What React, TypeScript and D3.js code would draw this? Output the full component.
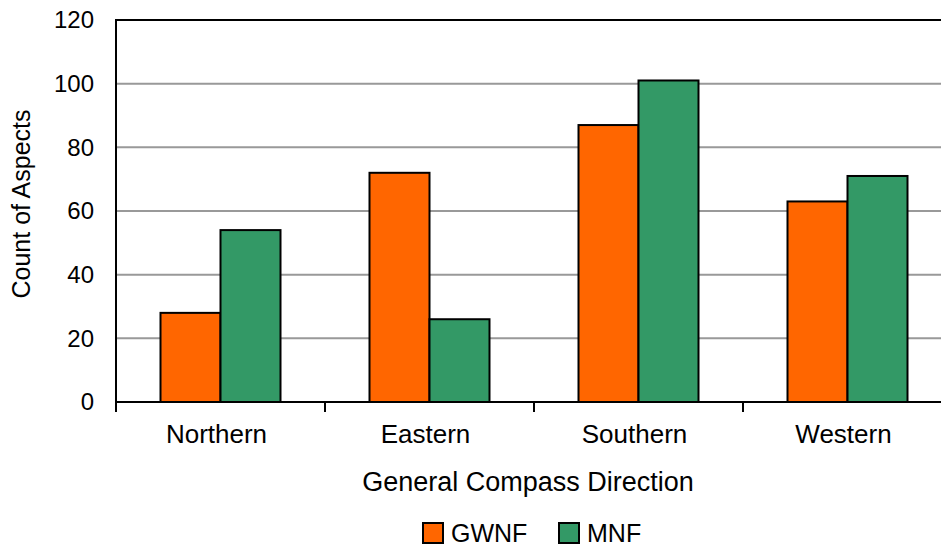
import React from "react";
import * as d3 from "d3";

const categories = ["Northern", "Eastern", "Southern", "Western"];
const seriesNames = ["GWNF", "MNF"];
const gwnf = [28, 72, 87, 63];
const mnf = [54, 26, 101, 71];
const yTicks = [0, 20, 40, 60, 80, 100, 120];
const colors = ["#FF6600", "#339966"];

const W = 941;
const H = 547;
const left = 116;
const top = 20;
const bottom = 402;
const bandW = 209;
const right = left + bandW * categories.length;
const font = "Liberation Sans, Arial, sans-serif";

export default function App() {
  const x = d3.scaleBand<string>().domain(categories).range([left, right]).paddingInner(0).paddingOuter(0);
  const inner = d3.scaleBand<string>().domain(seriesNames).range([0, 120]);
  const y = d3.scaleLinear().domain([0, 120]).range([bottom, top]);
  const values = [gwnf, mnf];

  return (
    <svg width={W} height={H} style={{ position: "absolute", left: 0, top: 0, background: "#fff" }}>
      {/* horizontal gridlines */}
      {yTicks.filter((t) => t > 0 && t < 120).map((t) => (
        <line key={t} x1={left} x2={right} y1={y(t)} y2={y(t)} stroke="#999" strokeWidth={2} />
      ))}
      {/* top frame line */}
      <line x1={left} x2={right} y1={y(120)} y2={y(120)} stroke="#000" strokeWidth={2} />
      {/* bars */}
      {categories.map((c, i) => (
        <g key={c}>
          {seriesNames.map((s, j) => {
            const bx = (x(c) as number) + (bandW - 120) / 2 + (inner(s) as number);
            const v = values[j][i];
            return (
              <rect
                key={s}
                x={bx}
                y={y(v)}
                width={inner.bandwidth()}
                height={bottom - y(v)}
                fill={colors[j]}
                stroke="#000"
                strokeWidth={2}
              />
            );
          })}
        </g>
      ))}
      {/* axes */}
      <line x1={left} x2={left} y1={top - 1} y2={bottom + 1} stroke="#000" strokeWidth={2} />
      <line x1={left - 1} x2={right} y1={bottom} y2={bottom} stroke="#000" strokeWidth={2} />
      {d3.range(categories.length + 1).map((k) => (
        <line key={k} x1={left + k * bandW} x2={left + k * bandW} y1={bottom} y2={bottom + 10} stroke="#000" strokeWidth={2} />
      ))}
      {/* y tick labels */}
      {yTicks.map((t) => (
        <text key={t} x={94} y={y(t)} dy="0.35em" textAnchor="end" fontFamily={font} fontSize={24} fill="#000">
          {t}
        </text>
      ))}
      {/* x category labels */}
      {categories.map((c) => (
        <text key={c} x={(x(c) as number) + bandW / 2 - 4} y={443} textAnchor="middle" fontFamily={font} fontSize={26} fill="#000">
          {c}
        </text>
      ))}
      {/* axis titles */}
      <text x={528} y={491} textAnchor="middle" fontFamily={font} fontSize={27} fill="#000">
        General Compass Direction
      </text>
      <text transform={`translate(30,204) rotate(-90)`} textAnchor="middle" fontFamily={font} fontSize={25} fill="#000">
        Count of Aspects
      </text>
      {/* legend */}
      {seriesNames.map((s, j) => {
        const lx = j === 0 ? 423 : 559;
        return (
          <g key={s}>
            <rect x={lx} y={523} width={20} height={20} fill={colors[j]} stroke="#000" strokeWidth={2} />
            <text x={lx + 28} y={542} fontFamily={font} fontSize={25} fill="#000">
              {s}
            </text>
          </g>
        );
      })}
    </svg>
  );
}
